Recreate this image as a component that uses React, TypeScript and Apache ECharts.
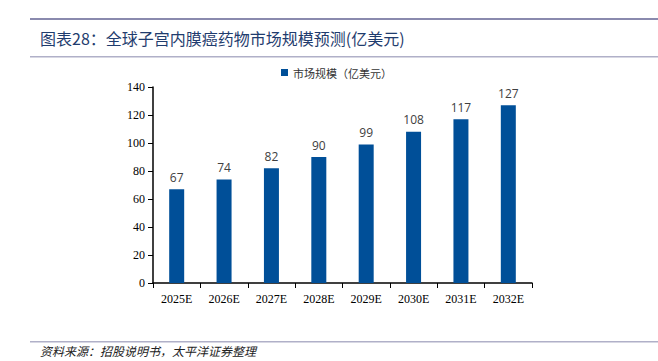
import React, { useEffect, useRef } from "react";
import * as echarts from "echarts";

const categories = ["2025E", "2026E", "2027E", "2028E", "2029E", "2030E", "2031E", "2032E"];
const values = [67, 74, 82, 90, 99, 108, 117, 127];
const seriesName = "市场规模（亿美元）";
const title = "图表28：全球子宫内膜癌药物市场规模预测(亿美元)";
const source = "资料来源：招股说明书，太平洋证券整理";

export default function App() {
  const ref = useRef<HTMLDivElement>(null);
  useEffect(() => {
    const chart = echarts.init(ref.current!, null, { renderer: "svg" });
    const serif = "'Liberation Serif', 'Noto Sans CJK SC', serif";
    chart.setOption({
      animation: false,
      backgroundColor: "#ffffff",
      grid: { left: 153, right: 126, top: 87, bottom: 78 },
      legend: {
        top: 62,
        left: 276,
        itemWidth: 7,
        itemHeight: 7,
        icon: "rect",
        itemGap: 4,
        textStyle: { fontSize: 11, color: "#333", fontFamily: "'Noto Sans CJK SC', sans-serif" },
        data: [seriesName],
      },
      xAxis: {
        type: "category",
        data: categories,
        axisLine: { lineStyle: { color: "#000", width: 1.5 } },
        axisTick: { show: true, alignWithLabel: false, lineStyle: { color: "#000" } },
        axisLabel: { color: "#000", fontSize: 12, fontFamily: serif, margin: 10 },
      },
      yAxis: {
        type: "value",
        min: 0,
        max: 140,
        interval: 20,
        axisLine: { show: true, lineStyle: { color: "#000", width: 1.5 } },
        axisTick: { show: true, lineStyle: { color: "#000" } },
        splitLine: { show: false },
        axisLabel: { color: "#000", fontSize: 12, fontFamily: serif, margin: 8 },
      },
      series: [
        {
          name: seriesName,
          type: "bar",
          data: values,
          barWidth: 15,
          itemStyle: { color: "#004f98" },
          label: { show: true, position: "top", color: "#404040", fontSize: 12, fontFamily: "'Open Sans', sans-serif", distance: 6 },
        },
      ],
      graphic: [
        { type: "rect", shape: { x: 30, y: 18, width: 628, height: 2 }, style: { fill: "#8a8aae" } },
        { type: "text", x: 40, y: 30, style: { text: title, fontSize: 16, fill: "#1f3c6e", fontFamily: "'Noto Sans CJK SC', serif" } },
        { type: "rect", shape: { x: 30, y: 56, width: 628, height: 1.5 }, style: { fill: "#b0b0c8" } },
        { type: "rect", shape: { x: 30, y: 341, width: 628, height: 1.5 }, style: { fill: "#b0b0c8" } },
        { type: "text", x: 40, y: 344, style: { text: source, fontSize: 12, fontStyle: "italic", fill: "#222", fontFamily: "'Noto Sans CJK SC', serif" } },
      ],
    });
    return () => chart.dispose();
  }, []);
  return <div ref={ref} style={{ width: 658, height: 361, position: "absolute", left: 0, top: 0 }} />;
}
